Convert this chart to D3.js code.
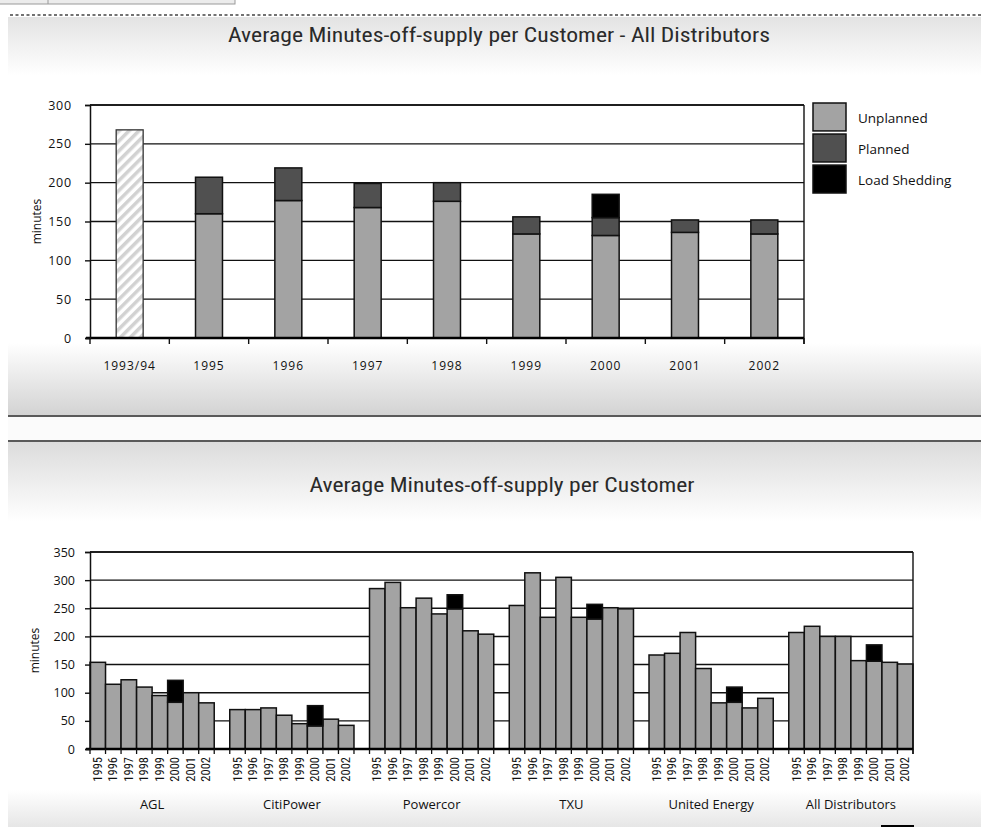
<!DOCTYPE html>
<html><head><meta charset="utf-8">
<script src="https://cdn.jsdelivr.net/npm/d3@7"></script>
<style>
html,body{margin:0;padding:0;background:#fff;}
svg{display:block;}
</style></head>
<body>
<script>
// ---------- DATA ----------
const topCategories = ["1993/94","1995","1996","1997","1998","1999","2000","2001","2002"];
const topHistoric   = [268, null, null, null, null, null, null, null, null];
const topUnplanned  = [null,160,177,168,176,134,132,136,134];
const topPlanned    = [null, 47, 42, 31, 24, 22, 23, 16, 18];
const topLoadShed   = [null,  0,  0,  0,  0,  0, 30,  0,  0];
const topYTicks     = [0,50,100,150,200,250,300];
const legendLabels  = ["Unplanned","Planned","Load Shedding"];

const groups = ["AGL","CitiPower","Powercor","TXU","United Energy","All Distributors"];
const years  = ["1995","1996","1997","1998","1999","2000","2001","2002"];
const aglTotal        = [154,115,123,110, 95, 83,100, 82];
const citiTotal       = [ 70, 70, 73, 60, 45, 41, 53, 42];
const powercorTotal   = [285,296,251,268,240,249,210,204];
const txuTotal        = [255,313,234,305,234,231,251,249];
const ueTotal         = [167,170,207,143, 82, 83, 73, 90];
const allTotal        = [207,218,200,200,157,156,154,151];
const aglShed         = [0,0,0,0,0,39,0,0];
const citiShed        = [0,0,0,0,0,36,0,0];
const powercorShed    = [0,0,0,0,0,25,0,0];
const txuShed         = [0,0,0,0,0,26,0,0];
const ueShed          = [0,0,0,0,0,27,0,0];
const allShed         = [0,0,0,0,0,29,0,0];
const bottomYTicks    = [0,50,100,150,200,250,300,350];

const topTitle = "Average Minutes-off-supply per Customer - All Distributors";
const bottomTitle = "Average Minutes-off-supply per Customer";

// ---------- SETUP ----------
const W = 981, H = 827;
const svg = d3.select("body").append("svg").attr("width", W).attr("height", H);
const defs = svg.append("defs");

function vgrad(id, stops) {
  const g = defs.append("linearGradient").attr("id", id).attr("x1",0).attr("y1",0).attr("x2",0).attr("y2",1);
  stops.forEach(([o,c]) => g.append("stop").attr("offset", o).attr("stop-color", c));
}
vgrad("gTopHead", [[0,"#e3e3e3"],[1,"#ffffff"]]);
vgrad("gTopFoot", [[0,"#ffffff"],[1,"#d3d3d3"]]);
vgrad("gBotHead", [[0,"#dcdcdc"],[1,"#ffffff"]]);
vgrad("gBotFoot", [[0,"#ffffff"],[1,"#e6e6e6"]]);

const hatch = defs.append("pattern").attr("id","hatch").attr("patternUnits","userSpaceOnUse")
  .attr("width",7).attr("height",7).attr("patternTransform","rotate(45)");
hatch.append("rect").attr("width",7).attr("height",7).attr("fill","#ffffff");
hatch.append("rect").attr("x",0).attr("width",3.5).attr("height",7).attr("fill","#d2d2d2");

// ---------- BACKGROUND PANELS ----------
svg.append("rect").attr("x",0).attr("y",0).attr("width",W).attr("height",H).attr("fill","#ffffff");
svg.append("rect").attr("x",-1).attr("y",-2).attr("width",236).attr("height",6).attr("fill","#ececec").attr("stroke","#9a9a9a");
svg.append("line").attr("x1",48).attr("x2",48).attr("y1",0).attr("y2",4).attr("stroke","#9a9a9a");
svg.append("line").attr("x1",10).attr("x2",W).attr("y1",15).attr("y2",15)
  .attr("stroke","#444").attr("stroke-width",1.5).attr("stroke-dasharray","3,2.5");

svg.append("rect").attr("x",8).attr("y",17).attr("width",W-8).attr("height",58).attr("fill","url(#gTopHead)");
svg.append("rect").attr("x",8).attr("y",343).attr("width",W-8).attr("height",72).attr("fill","url(#gTopFoot)");
svg.append("line").attr("x1",8).attr("x2",W).attr("y1",416).attr("y2",416).attr("stroke","#5a5a5a").attr("stroke-width",2);
svg.append("rect").attr("x",8).attr("y",417).attr("width",W-8).attr("height",23).attr("fill","#fbfbfb");
svg.append("line").attr("x1",8).attr("x2",W).attr("y1",441).attr("y2",441).attr("stroke","#5a5a5a").attr("stroke-width",2);
svg.append("rect").attr("x",8).attr("y",442).attr("width",W-8).attr("height",80).attr("fill","url(#gBotHead)");
svg.append("rect").attr("x",8).attr("y",790).attr("width",W-8).attr("height",37).attr("fill","url(#gBotFoot)");
svg.append("rect").attr("x",881).attr("y",825).attr("width",33).attr("height",3).attr("fill","#000");

const titleFont = "'Liberation Sans Narrow','Roboto Condensed','Liberation Sans',sans-serif";
const labFont = "'Open Sans','Noto Sans',sans-serif";

svg.append("text").attr("x",499).attr("y",42).attr("text-anchor","middle")
  .attr("font-family",titleFont).attr("font-size",21).attr("fill","#2a2a2a")
  .attr("textLength",542).attr("lengthAdjust","spacingAndGlyphs").text(topTitle);
svg.append("text").attr("x",502).attr("y",492).attr("text-anchor","middle")
  .attr("font-family",titleFont).attr("font-size",21).attr("fill","#2a2a2a")
  .attr("textLength",385).attr("lengthAdjust","spacingAndGlyphs").text(bottomTitle);

// ---------- TOP CHART ----------
const tL = 90, tR = 804, tT = 105, tB = 338;
const xT = d3.scaleBand().domain(topCategories).range([tL,tR]).paddingInner(0.66).paddingOuter(0.33);
const yT = d3.scaleLinear().domain([0,300]).range([tB,tT]);
const gT = svg.append("g");

gT.append("rect").attr("x",tL).attr("y",tT).attr("width",tR-tL).attr("height",tB-tT).attr("fill","#fff");
gT.append("g").selectAll("line").data(topYTicks.filter(v=>v>0)).join("line")
  .attr("x1",tL).attr("x2",tR).attr("y1",d=>yT(d)).attr("y2",d=>yT(d))
  .attr("stroke","#111").attr("stroke-width",1.4);

const topRows = topCategories.map((c,i)=>({
  cat:c, hist:topHistoric[i], u:topUnplanned[i], p:topPlanned[i], s:topLoadShed[i]
}));
const stackKeys = ["u","p","s"];
const stackColors = {u:"#a3a3a3", p:"#505050", s:"#000000"};
const stacked = d3.stack().keys(stackKeys).value((d,k)=>d[k]||0)(topRows);
stacked.forEach(layer=>{
  gT.append("g").selectAll("rect").data(layer.filter(d=>d.data.u!=null && d[1]>d[0])).join("rect")
    .attr("x",d=>xT(d.data.cat)).attr("width",xT.bandwidth())
    .attr("y",d=>yT(d[1])).attr("height",d=>yT(d[0])-yT(d[1]))
    .attr("fill",stackColors[layer.key]).attr("stroke","#111").attr("stroke-width",1.5);
});
gT.append("g").selectAll("rect").data(topRows.filter(d=>d.hist!=null)).join("rect")
  .attr("x",d=>xT(d.cat)).attr("width",xT.bandwidth())
  .attr("y",d=>yT(d.hist)).attr("height",d=>yT(0)-yT(d.hist))
  .attr("fill","url(#hatch)").attr("stroke","#333").attr("stroke-width",1.3);

gT.append("line").attr("x1",tL).attr("x2",tR).attr("y1",tT).attr("y2",tT).attr("stroke","#111").attr("stroke-width",1.4);
gT.append("line").attr("x1",tR).attr("x2",tR).attr("y1",tT).attr("y2",tB+6).attr("stroke","#111").attr("stroke-width",1.4);
gT.append("line").attr("x1",tL-4).attr("x2",tR).attr("y1",tB).attr("y2",tB).attr("stroke","#000").attr("stroke-width",2.5);
const yAxT = d3.axisLeft(yT).tickValues(topYTicks).tickSize(5).tickPadding(13);
const yAxTG = gT.append("g").attr("transform",`translate(${tL},0)`).call(yAxT);
yAxTG.select(".domain").attr("stroke","#111").attr("stroke-width",1.5);
yAxTG.selectAll(".tick line").attr("stroke","#111").attr("stroke-width",1.4);
yAxTG.selectAll("text").attr("font-family",labFont).attr("font-size",12.5).attr("letter-spacing",0.8).attr("fill","#111");
const topBounds = topCategories.map(c=>xT(c) - xT.step()*xT.paddingOuter()).concat([tR]);
gT.append("g").selectAll("line").data(topBounds).join("line")
  .attr("x1",d=>d).attr("x2",d=>d).attr("y1",tB).attr("y2",tB+6).attr("stroke","#111").attr("stroke-width",1.4);
gT.append("g").selectAll("text").data(topCategories).join("text")
  .attr("x",d=>xT(d)+xT.bandwidth()/2).attr("y",370).attr("text-anchor","middle")
  .attr("font-family",labFont).attr("font-size",12).attr("letter-spacing",1).attr("fill","#111").text(d=>d);
gT.append("text").attr("transform",`translate(41,${(tT+tB)/2}) rotate(-90)`).attr("text-anchor","middle")
  .attr("font-family",labFont).attr("font-size",12).attr("fill","#111").text("minutes");

const legY = d3.scaleBand().domain(legendLabels).range([103,193]).paddingInner(0.1);
const legColors = [stackColors.u, stackColors.p, stackColors.s];
const leg = gT.append("g");
leg.selectAll("rect").data(legendLabels).join("rect")
  .attr("x",813).attr("y",d=>legY(d)).attr("width",33).attr("height",legY.bandwidth())
  .attr("fill",(d,i)=>legColors[i]).attr("stroke","#111").attr("stroke-width",1.5);
leg.selectAll("text").data(legendLabels).join("text")
  .attr("x",858).attr("y",d=>legY(d)+legY.bandwidth()/2+6)
  .attr("font-family",labFont).attr("font-size",13.5).attr("fill","#111").text(d=>d);

// ---------- BOTTOM CHART ----------
const bL = 90, bR = 913, bT = 552, bB = 749;
const totals = [aglTotal,citiTotal,powercorTotal,txuTotal,ueTotal,allTotal];
const sheds  = [aglShed,citiShed,powercorShed,txuShed,ueShed,allShed];
const rows = [];
groups.forEach((g,gi)=>{
  years.forEach((y,yi)=>rows.push({key:g+"|"+y, group:g, year:y, total:totals[gi][yi], shed:sheds[gi][yi]}));
  if (gi < groups.length-1) rows.push({key:g+"|gap", group:g, year:"", total:0, shed:0, gap:true});
});
const xB = d3.scaleBand().domain(rows.map(d=>d.key)).range([bL,bR]).padding(0);
const yB = d3.scaleLinear().domain([0,350]).range([bB,bT]);
const gB = svg.append("g");
gB.append("rect").attr("x",bL).attr("y",bT).attr("width",bR-bL).attr("height",bB-bT).attr("fill","#fff");
gB.append("g").selectAll("line").data(bottomYTicks.filter(v=>v>0)).join("line")
  .attr("x1",bL).attr("x2",bR).attr("y1",d=>yB(d)).attr("y2",d=>yB(d))
  .attr("stroke","#111").attr("stroke-width",1.4);
gB.append("g").selectAll("rect").data(rows.filter(d=>!d.gap)).join("rect")
  .attr("x",d=>xB(d.key)).attr("width",xB.bandwidth())
  .attr("y",d=>yB(d.total)).attr("height",d=>yB(0)-yB(d.total))
  .attr("fill","#a3a3a3").attr("stroke","#111").attr("stroke-width",1.5);
gB.append("g").selectAll("rect").data(rows.filter(d=>d.shed>0)).join("rect")
  .attr("x",d=>xB(d.key)).attr("width",xB.bandwidth())
  .attr("y",d=>yB(d.total+d.shed)).attr("height",d=>yB(d.total)-yB(d.total+d.shed))
  .attr("fill","#000").attr("stroke","#111").attr("stroke-width",1.5);
gB.append("line").attr("x1",bL).attr("x2",bR).attr("y1",bT).attr("y2",bT).attr("stroke","#111").attr("stroke-width",1.4);
gB.append("line").attr("x1",bR).attr("x2",bR).attr("y1",bT).attr("y2",bB+5).attr("stroke","#111").attr("stroke-width",1.4);
gB.append("line").attr("x1",bL-4).attr("x2",bR).attr("y1",bB).attr("y2",bB).attr("stroke","#000").attr("stroke-width",2.5);
const yAxB = d3.axisLeft(yB).tickValues(bottomYTicks).tickSize(5).tickPadding(10);
const yAxBG = gB.append("g").attr("transform",`translate(${bL},0)`).call(yAxB);
yAxBG.select(".domain").attr("stroke","#111").attr("stroke-width",1.5);
yAxBG.selectAll(".tick line").attr("stroke","#111").attr("stroke-width",1.4);
yAxBG.selectAll("text").attr("font-family",labFont).attr("font-size",12.5).attr("fill","#111");
const botBounds = rows.map(d=>xB(d.key)).concat([bR]);
gB.append("g").selectAll("line").data(botBounds).join("line")
  .attr("x1",d=>d).attr("x2",d=>d).attr("y1",bB).attr("y2",bB+5).attr("stroke","#111").attr("stroke-width",1.3);
gB.append("g").selectAll("text").data(rows.filter(d=>!d.gap)).join("text")
  .attr("transform",d=>`translate(${xB(d.key)+xB.bandwidth()/2+4},757) rotate(-90)`)
  .attr("text-anchor","end")
  .attr("font-family",titleFont).attr("font-size",12.5).attr("fill","#111").text(d=>d.year);
gB.append("g").selectAll("text").data(groups).join("text")
  .attr("x",g=>{const r=rows.filter(d=>d.group===g&&!d.gap); return (xB(r[0].key)+xB(r[r.length-1].key)+xB.bandwidth())/2;})
  .attr("y",809).attr("text-anchor","middle")
  .attr("font-family",labFont).attr("font-size",13).attr("fill","#111").text(d=>d);
gB.append("text").attr("transform",`translate(39,${(bT+bB)/2}) rotate(-90)`).attr("text-anchor","middle")
  .attr("font-family",labFont).attr("font-size",12).attr("fill","#111").text("minutes");
</script>
</body></html>
